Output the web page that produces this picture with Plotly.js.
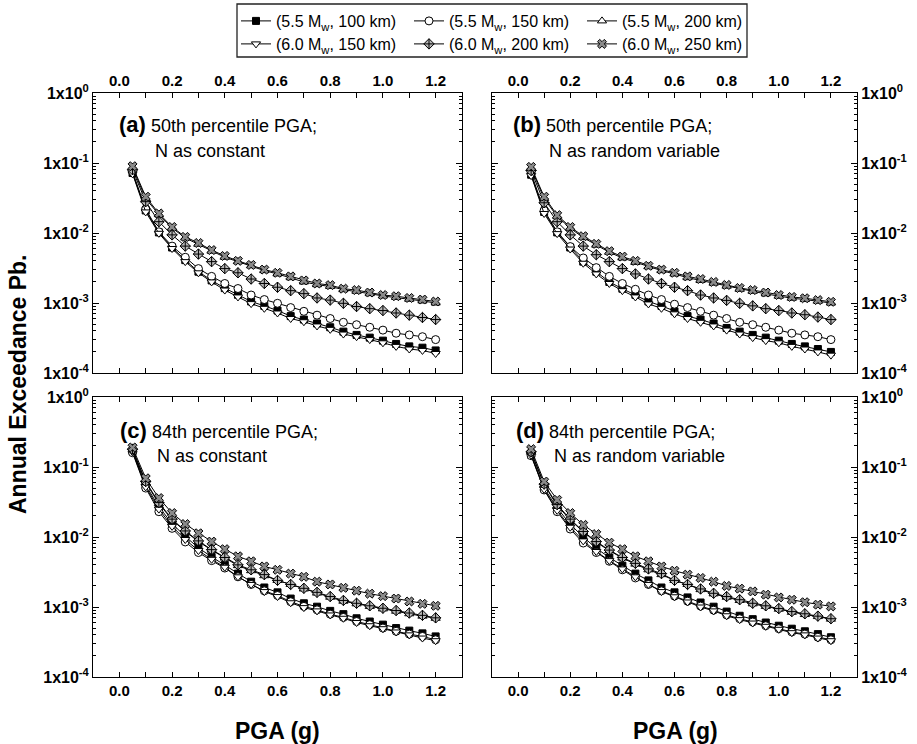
<!DOCTYPE html>
<html><head><meta charset="utf-8">
<script src="https://cdn.plot.ly/plotly-3.0.1.min.js"></script>
<style>html,body{margin:0;padding:0;background:#fff}#chart{width:917px;height:744px}</style>
</head><body><div id="chart"></div><script>
// ---------- data ----------
const pga = [0.05,0.10,0.15,0.20,0.25,0.30,0.35,0.40,0.45,0.50,0.55,0.60,0.65,0.70,0.75,0.80,0.85,0.90,0.95,1.00,1.05,1.10,1.15,1.20];

const seriesNames = ['(5.5 M<sub>w</sub>, 100 km)','(5.5 M<sub>w</sub>, 150 km)','(5.5 M<sub>w</sub>, 200 km)',
                     '(6.0 M<sub>w</sub>, 150 km)','(6.0 M<sub>w</sub>, 200 km)','(6.0 M<sub>w</sub>, 250 km)'];

// (a) 50th percentile, N constant
const a_55_100 = [0.072,0.021,0.0102,0.0062,0.0041,0.0028,0.0021,0.00163,0.00131,0.00105,0.00091,0.00078,0.00065,0.00058,0.00051,0.00045,0.00039,0.00035,0.00032,0.00029,0.00026,0.00024,0.00023,0.00021];
const a_55_150 = [0.075,0.022,0.0104,0.0065,0.0045,0.0031,0.0024,0.0019,0.00161,0.00130,0.00112,0.00099,0.00086,0.00076,0.00067,0.00060,0.00053,0.00049,0.00045,0.00041,0.00037,0.00035,0.00033,0.00030];
const a_55_200 = [0.086,0.031,0.0183,0.0118,0.0085,0.0069,0.0055,0.0045,0.0039,0.0034,0.0029,0.0026,0.0023,0.0020,0.00183,0.00172,0.00155,0.00147,0.00136,0.00126,0.00120,0.00113,0.00107,0.00100];
const a_60_150 = [0.070,0.020,0.0099,0.0060,0.0039,0.0027,0.0020,0.00153,0.00122,0.00098,0.00084,0.00072,0.00060,0.00054,0.00047,0.00042,0.00036,0.00033,0.00030,0.00027,0.00024,0.00022,0.00021,0.00019];
const a_60_200 = [0.080,0.028,0.0145,0.0094,0.0065,0.0050,0.0039,0.0031,0.0027,0.0022,0.0019,0.00168,0.00150,0.00136,0.00118,0.00110,0.00099,0.00089,0.00083,0.00078,0.00072,0.00067,0.00062,0.00058];
const a_60_250 = [0.090,0.033,0.019,0.0122,0.0088,0.0072,0.0057,0.0047,0.0040,0.0035,0.0030,0.0027,0.0024,0.0021,0.0019,0.0018,0.0016,0.00153,0.00141,0.00130,0.00125,0.00118,0.00112,0.00105];

// (b) 50th percentile, N random variable
const b_55_100 = [0.068,0.020,0.0102,0.0062,0.0039,0.0028,0.0020,0.0016,0.00131,0.00105,0.00091,0.00076,0.00065,0.00058,0.00051,0.00044,0.00039,0.00035,0.00032,0.00029,0.00026,0.00024,0.00022,0.00020];
const b_55_150 = [0.072,0.021,0.0104,0.0064,0.0044,0.0032,0.0024,0.0019,0.00157,0.00130,0.00112,0.00096,0.00086,0.00076,0.00067,0.00060,0.00053,0.00049,0.00045,0.00041,0.00037,0.00035,0.00033,0.00030];
const b_55_200 = [0.084,0.031,0.0173,0.0117,0.0086,0.0067,0.0053,0.0044,0.0038,0.0033,0.0029,0.0026,0.0023,0.0021,0.00192,0.00174,0.00157,0.00147,0.00135,0.00125,0.00117,0.00112,0.00106,0.00100];
const b_60_150 = [0.066,0.019,0.0098,0.0059,0.0037,0.0026,0.0019,0.0015,0.00122,0.00097,0.00084,0.00070,0.00060,0.00053,0.00047,0.00041,0.00036,0.00032,0.00029,0.00027,0.00024,0.00022,0.00020,0.00018];
const b_60_200 = [0.078,0.027,0.0145,0.0094,0.0065,0.0049,0.0039,0.0031,0.0026,0.0022,0.0019,0.00168,0.00150,0.00130,0.00118,0.00109,0.00099,0.00091,0.00083,0.00078,0.00072,0.00068,0.00063,0.00058];
const b_60_250 = [0.088,0.033,0.018,0.0122,0.0090,0.0070,0.0055,0.0046,0.0040,0.0034,0.0030,0.0027,0.0024,0.0022,0.0020,0.00181,0.00164,0.00153,0.00141,0.00130,0.00122,0.00117,0.00110,0.00104];

// (c) 84th percentile, N constant
const c_55_100 = [0.17,0.055,0.027,0.0155,0.0102,0.0070,0.0052,0.0040,0.0030,0.0023,0.0019,0.00162,0.00132,0.00113,0.00101,0.00088,0.00079,0.00069,0.00062,0.00056,0.00050,0.00046,0.00042,0.00038];
const c_55_150 = [0.16,0.050,0.023,0.0133,0.0085,0.0060,0.0046,0.0036,0.0027,0.0021,0.0017,0.00146,0.00119,0.00102,0.00091,0.00079,0.00071,0.00062,0.00056,0.00050,0.00045,0.00041,0.00038,0.00034];
const c_55_200 = [0.175,0.060,0.030,0.0176,0.0120,0.0086,0.0065,0.0050,0.0039,0.0033,0.0028,0.0024,0.0021,0.00181,0.00158,0.00138,0.00121,0.00111,0.00102,0.00094,0.00087,0.00080,0.00074,0.00069];
const c_60_150 = [0.165,0.052,0.025,0.0142,0.0092,0.0064,0.0048,0.0037,0.0027,0.0021,0.00166,0.00141,0.00115,0.00098,0.00088,0.00077,0.00069,0.00060,0.00054,0.00049,0.00044,0.00040,0.00036,0.00033];
const c_60_200 = [0.18,0.062,0.031,0.018,0.0122,0.0088,0.0066,0.0051,0.0040,0.0034,0.0029,0.0024,0.0021,0.00185,0.00162,0.00141,0.00124,0.00113,0.00104,0.00096,0.00089,0.00082,0.00076,0.00070];
const c_60_250 = [0.19,0.069,0.036,0.022,0.0153,0.0113,0.0086,0.0067,0.0053,0.0045,0.0038,0.0034,0.0030,0.0027,0.0023,0.0021,0.00188,0.00171,0.00155,0.00143,0.00132,0.00120,0.00111,0.00104];

// (d) 84th percentile, N random variable
const d_55_100 = [0.15,0.050,0.026,0.0152,0.0100,0.0069,0.0051,0.0039,0.0030,0.0024,0.0019,0.00162,0.00137,0.00116,0.00101,0.00086,0.00075,0.00067,0.00060,0.00054,0.00049,0.00045,0.00041,0.00037];
const d_55_150 = [0.145,0.047,0.023,0.0130,0.0082,0.0060,0.0045,0.0034,0.0026,0.0021,0.0017,0.00143,0.00121,0.00103,0.00090,0.00077,0.00068,0.00061,0.00054,0.00049,0.00044,0.00041,0.00037,0.00034];
const d_55_200 = [0.162,0.056,0.028,0.0176,0.0118,0.0084,0.0064,0.0050,0.0041,0.0034,0.0029,0.0024,0.0021,0.00177,0.00154,0.00138,0.00124,0.00111,0.00102,0.00093,0.00084,0.00078,0.00073,0.00067];
const d_60_150 = [0.148,0.048,0.024,0.0138,0.0088,0.0062,0.0046,0.0035,0.0027,0.0021,0.00166,0.00140,0.00118,0.00100,0.00088,0.00075,0.00066,0.00059,0.00053,0.00048,0.00043,0.00040,0.00036,0.00033];
const d_60_200 = [0.165,0.057,0.029,0.018,0.0120,0.0086,0.0065,0.0051,0.0042,0.0035,0.0030,0.0024,0.0021,0.00181,0.00157,0.00141,0.00127,0.00113,0.00104,0.00095,0.00086,0.00080,0.00074,0.00068];
const d_60_250 = [0.18,0.062,0.034,0.022,0.0149,0.0110,0.0083,0.0067,0.0053,0.0045,0.0038,0.0033,0.0029,0.0026,0.0023,0.0020,0.00183,0.00167,0.00150,0.00137,0.00127,0.00117,0.00108,0.00102];

const xTickVals = [0,0.2,0.4,0.6,0.8,1.0,1.2];
const xTickText = ['0.0','0.2','0.4','0.6','0.8','1.0','1.2'];
const xMinorVals = [-0.1,0.1,0.3,0.5,0.7,0.9,1.1,1.3];
const yTickVals = [1e-4,1e-3,1e-2,1e-1,1];
const yTickText = ['1x10<sup>-4</sup>','1x10<sup>-3</sup>','1x10<sup>-2</sup>','1x10<sup>-1</sup>','1x10<sup>0</sup>'];

const panelTitles = ['50th percentile PGA;','50th percentile PGA;','84th percentile PGA;','84th percentile PGA;'];
const panelSub = ['N as constant','N as random variable','N as constant','N as random variable'];
const panelLetters = ['(a)','(b)','(c)','(d)'];

// ---------- layout helpers ----------
const W = 917, H = 744;
const px = v => v / W;
const py = v => 1 - v / H;
const FONT = 'Liberation Sans, Arial, Helvetica, sans-serif';

const yMinor = [];
for (let e = -4; e < 0; e++) for (let m = 2; m <= 9; m++) yMinor.push(m * Math.pow(10, e));

const styles = [
  {symbol:'square', color:'black', size:7, legend:'legend'},
  {symbol:'circle', color:'white', size:8, legend:'legend'},
  {symbol:'triangle-up', color:'white', size:8, legend:'legend'},
  {symbol:'triangle-down', color:'white', size:8, legend:'legend2'},
  {symbol:'diamond-cross', color:'#b8b8b8', size:8, legend:'legend2'},
  {symbol:'x', color:'#8a8a8a', size:8, legend:'legend2'}
];

const panels = [
  {xa:'x',  ya:'y',  data:[a_55_100,a_55_150,a_55_200,a_60_150,a_60_200,a_60_250]},
  {xa:'x2', ya:'y2', data:[b_55_100,b_55_150,b_55_200,b_60_150,b_60_200,b_60_250]},
  {xa:'x3', ya:'y3', data:[c_55_100,c_55_150,c_55_200,c_60_150,c_60_200,c_60_250]},
  {xa:'x4', ya:'y4', data:[d_55_100,d_55_150,d_55_200,d_60_150,d_60_200,d_60_250]}
];

const traces = [];
panels.forEach((p, pi) => {
  p.data.forEach((ys, si) => {
    const st = styles[si];
    traces.push({
      x: pga, y: ys, xaxis: p.xa, yaxis: p.ya,
      type: 'scatter', mode: 'lines+markers',
      name: seriesNames[si],
      legend: st.legend,
      showlegend: pi === 0,
      line: {color:'black', width:1},
      marker: {symbol: st.symbol, size: st.size, color: st.color, line:{color:'black', width:1}}
    });
  });
});

function xAxis(dom, side, anchor) {
  return {
    domain: dom, anchor: anchor, side: side, range: [-0.1, 1.3],
    showgrid:false, zeroline:false, showline:true, linecolor:'black', linewidth:1, mirror:'ticks',
    ticks:'inside', ticklen:5, tickcolor:'black', tickwidth:1,
    tickmode:'array', tickvals: xTickVals, ticktext: xTickText.map(t => '<b>' + t + '</b>'),
    tickfont:{family:FONT, size:15, color:'black'},
    minor:{tickmode:'array', tickvals: xMinorVals, ticks:'inside', ticklen:5, tickcolor:'black', tickwidth:1, showgrid:false}
  };
}
function yAxis(dom, side, anchor) {
  return {
    domain: dom, anchor: anchor, side: side, type:'log', range:[-4, 0],
    showgrid:false, zeroline:false, showline:true, linecolor:'black', linewidth:1, mirror:'ticks',
    ticks:'inside', ticklen:6, tickcolor:'black', tickwidth:1,
    tickmode:'array', tickvals: yTickVals, ticktext: yTickText.map(t => '<b>' + t + '</b>'),
    tickfont:{family:FONT, size:16, color:'black'},
    minor:{tickmode:'array', tickvals: yMinor, ticks:'inside', ticklen:3, tickcolor:'black', tickwidth:1, showgrid:false}
  };
}

const xa = [px(93), px(462)], xb = [px(492), px(857)];
const yt = [py(373), py(93)], yb = [py(677), py(397)];

const annotations = [];
const labelPos = [
  {x1:117, y1:125, x2:153, y2:151},
  {x1:511, y1:125, x2:547, y2:151},
  {x1:118, y1:430, x2:155, y2:456},
  {x1:514, y1:430, x2:552, y2:456}
];
labelPos.forEach((lp, i) => {
  annotations.push({xref:'paper', yref:'paper', x:px(lp.x1), y:py(lp.y1), xanchor:'left', yanchor:'middle', showarrow:false,
    text:'<b><span style="font-size:22px">' + panelLetters[i] + '</span></b> ' + panelTitles[i],
    font:{family:FONT, size:18, color:'black'}});
  annotations.push({xref:'paper', yref:'paper', x:px(lp.x2), y:py(lp.y2), xanchor:'left', yanchor:'middle', showarrow:false,
    text: panelSub[i], font:{family:FONT, size:18, color:'black'}});
});
annotations.push({xref:'paper', yref:'paper', x:px(18), y:py(385), xanchor:'center', yanchor:'middle', showarrow:false,
  textangle:-90, text:'<b>Annual Exceedance Pb.</b>', font:{family:FONT, size:23, color:'black'}});
annotations.push({xref:'paper', yref:'paper', x:px(277), y:py(731), xanchor:'center', yanchor:'middle', showarrow:false,
  text:'<b>PGA (g)</b>', font:{family:FONT, size:23, color:'black'}});
annotations.push({xref:'paper', yref:'paper', x:px(675), y:py(731), xanchor:'center', yanchor:'middle', showarrow:false,
  text:'<b>PGA (g)</b>', font:{family:FONT, size:23, color:'black'}});

const legendCommon = {orientation:'h', xanchor:'left', yanchor:'top', entrywidth:128, entrywidthmode:'pixels',
  font:{family:FONT, size:16, color:'black'}, bgcolor:'rgba(0,0,0,0)', borderwidth:0, itemclick:false};

const layout = {
  width: W, height: H,
  margin:{l:0, r:0, t:0, b:0},
  paper_bgcolor:'white', plot_bgcolor:'white',
  font:{family:FONT, color:'black'},
  xaxis: xAxis(xa, 'top', 'y'),
  yaxis: yAxis(yt, 'left', 'x'),
  xaxis2: xAxis(xb, 'top', 'y2'),
  yaxis2: yAxis(yt, 'right', 'x2'),
  xaxis3: xAxis(xa, 'bottom', 'y3'),
  yaxis3: yAxis(yb, 'left', 'x3'),
  xaxis4: xAxis(xb, 'bottom', 'y4'),
  yaxis4: yAxis(yb, 'right', 'x4'),
  legend: Object.assign({x:px(236), y:py(4)}, legendCommon),
  legend2: Object.assign({x:px(236), y:py(27)}, legendCommon),
  shapes:[{type:'rect', xref:'paper', yref:'paper', x0:px(237), x1:px(747), y0:py(57), y1:py(4),
    line:{color:'#222', width:1.3}, fillcolor:'rgba(0,0,0,0)'}],
  annotations: annotations
};

Plotly.newPlot('chart', traces, layout, {staticPlot:true, displayModeBar:false});
</script></body></html>
